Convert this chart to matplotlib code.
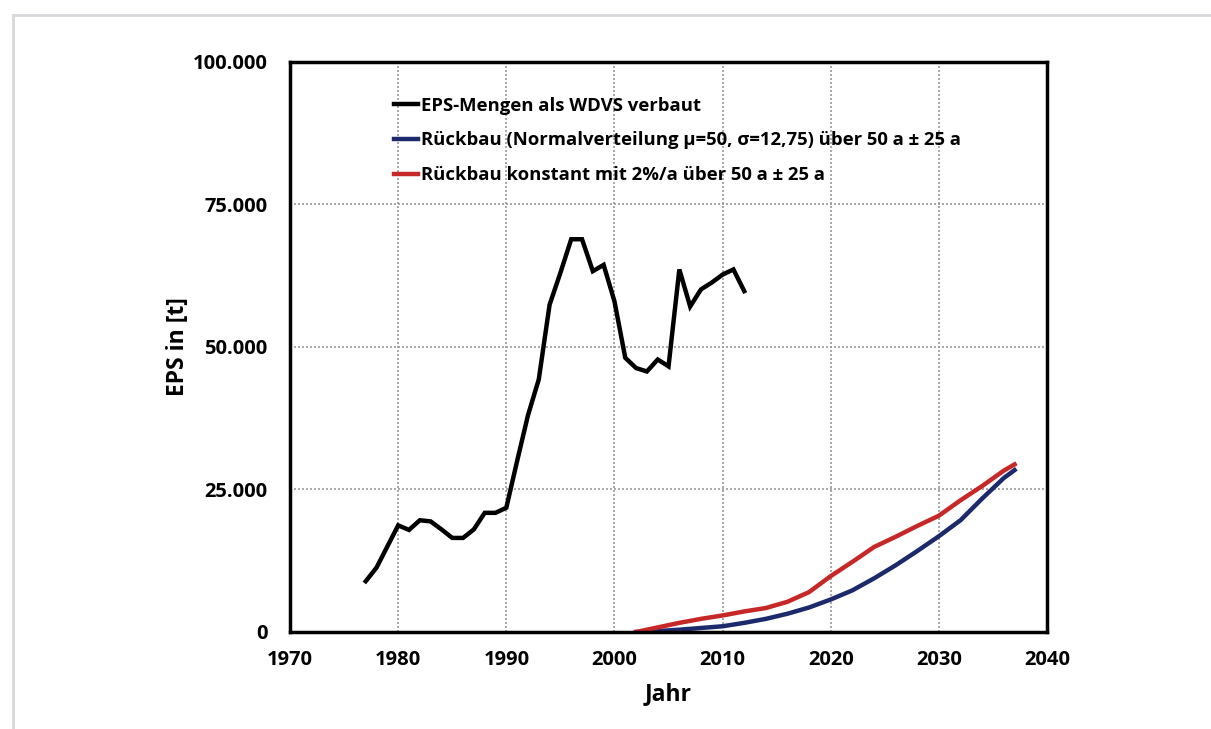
import matplotlib
matplotlib.use("Agg")
import matplotlib.pyplot as plt
from matplotlib.lines import Line2D
from matplotlib.ticker import FuncFormatter

# EPS installed as ETICS (WDVS), tonnes per year
years_wdvs = list(range(1977, 2013))
eps_wdvs = [8.9, 11.3, 15.0, 18.7, 17.9, 19.6, 19.4, 18.0, 16.5, 16.5,
            18.0, 20.9, 20.9, 21.8, 30.0, 38.0, 44.3, 57.4, 63.0, 68.9,
            68.9, 63.3, 64.4, 58.0, 48.1, 46.3, 45.7, 47.8, 46.6, 63.6,
            57.1, 60.1, 61.3, 62.7, 63.6, 59.8]

# demolition scenarios
years_rb = [2002, 2004, 2006, 2008, 2010, 2012, 2014, 2016, 2018, 2020,
            2022, 2024, 2026, 2028, 2030, 2032, 2034, 2036, 2037]
rb_normal = [0.0, 0.15, 0.4, 0.7, 1.0, 1.6, 2.3, 3.2, 4.3, 5.7,
             7.3, 9.4, 11.7, 14.2, 16.8, 19.6, 23.4, 27.0, 28.4]
rb_konstant = [0.0, 0.8, 1.6, 2.3, 2.9, 3.6, 4.2, 5.3, 7.0, 9.8,
               12.3, 14.9, 16.7, 18.6, 20.4, 23.1, 25.6, 28.3, 29.4]

labels = [
    "EPS-Mengen als WDVS verbaut",
    "Rückbau (Normalverteilung μ=50, σ=12,75) über 50 a ± 25 a",
    "Rückbau konstant mit 2%/a über 50 a ± 25 a",
]

plt.rcParams["font.family"] = ["Open Sans", "DejaVu Sans"]
plt.rcParams["font.weight"] = "bold"

fig = plt.figure(figsize=(12.11, 7.29), dpi=100)
ax = fig.add_axes([0.2395, 0.1331, 0.6251, 0.7819])

# light frame around the figure
fig.add_artist(Line2D([0.0107, 1.0], [0.979, 0.979], color="#d8d8dc", lw=2))
fig.add_artist(Line2D([0.0107, 0.0107], [0.0, 0.979], color="#d8d8dc", lw=2))

ax.plot(years_wdvs, [v * 1000 for v in eps_wdvs], color="black", lw=3.2,
        solid_joinstyle="miter", label=labels[0], zorder=3)
ax.plot(years_rb, [v * 1000 for v in rb_normal], color="#1c2a6b", lw=3.2,
        label=labels[1], zorder=3)
ax.plot(years_rb, [v * 1000 for v in rb_konstant], color="#c62828", lw=3.2,
        label=labels[2], zorder=3)

ax.set_xlim(1970, 2040)
ax.set_ylim(0, 100000)
ax.set_xticks(range(1970, 2041, 10))
ax.set_yticks(range(0, 100001, 25000))
ax.yaxis.set_major_formatter(FuncFormatter(lambda v, p: f"{int(v):,}".replace(",", ".")))
ax.grid(True, color="#9a9a9a", linestyle=(0, (1.2, 1.2)), lw=1.2)
ax.tick_params(axis="x", length=0, labelsize=14.5, pad=13)
ax.tick_params(axis="y", length=0, labelsize=14.5, pad=16)
for lab in ax.get_xticklabels() + ax.get_yticklabels():
    lab.set_fontweight("bold")
for s in ax.spines.values():
    s.set_linewidth(2.5)
    s.set_zorder(4)

ax.set_xlabel("Jahr", fontsize=16.5, fontweight="bold", labelpad=9)
ax.set_ylabel("EPS in [t]", fontsize=16.5, fontweight="bold", labelpad=2)

ax.legend(loc="upper left", bbox_to_anchor=(0.115, 0.968), frameon=False,
          handlelength=1.3, handletextpad=0.2, labelspacing=0.9,
          prop={"size": 13.3, "weight": "bold"})

fig.savefig("out.png", dpi=100, facecolor="white")
